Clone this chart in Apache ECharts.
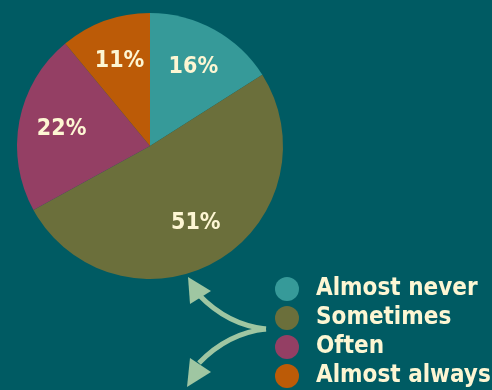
<!DOCTYPE html>
<html>
<head>
<meta charset="utf-8">
<script src="https://cdn.jsdelivr.net/npm/echarts@6/dist/echarts.min.js"></script>
<style>
  html, body { margin: 0; padding: 0; background: #005b63; }
  #chart { width: 492px; height: 390px; }
</style>
</head>
<body>
<div id="chart"></div>
<script>
// Survey answer categories and their shares (percent)
const categories = ['Almost never', 'Sometimes', 'Often', 'Almost always'];
const shares = [16, 51, 22, 11];
const sliceColors = ['#369a99', '#6b6f3b', '#943f64', '#bc5b07'];

const textColor = '#fdf6d3';
const arrowColor = '#9fc6a2';
const fontFamily = '"DejaVu Sans Condensed", "DejaVu Sans", sans-serif';

const pieData = categories.map((name, i) => ({
  name: name,
  value: shares[i],
  itemStyle: { color: sliceColors[i] }
}));

const chart = echarts.init(document.getElementById('chart'), null, { renderer: 'canvas' });

chart.setOption({
  backgroundColor: '#005b63',
  animation: false,
  legend: {
    orient: 'vertical',
    left: 275,
    top: 277,
    width: 217,
    height: 140,
    padding: 0,
    icon: 'circle',
    itemWidth: 24,
    itemHeight: 24,
    itemGap: 5,
    selectedMode: false,
    data: categories,
    textStyle: {
      color: textColor,
      fontFamily: fontFamily,
      fontWeight: 'bold',
      fontSize: 24,
      lineHeight: 22,
      padding: [2, 0, 0, 12]
    }
  },
  series: [
    {
      // the visible slices
      type: 'pie',
      center: [150, 146],
      radius: [0, 133],
      startAngle: 90,
      clockwise: true,
      silent: true,
      label: { show: false },
      labelLine: { show: false },
      itemStyle: { borderWidth: 0 },
      data: pieData
    },
    {
      // transparent twin used only to place the percentage labels further out
      type: 'pie',
      center: [150, 146],
      radius: [0, 174],
      startAngle: 90,
      clockwise: true,
      silent: true,
      itemStyle: { color: 'rgba(0,0,0,0)', borderWidth: 0 },
      label: {
        show: true,
        position: 'inside',
        formatter: '{c}%',
        color: textColor,
        fontFamily: fontFamily,
        fontWeight: 'bold',
        fontSize: 23,
        padding: [9, 0, 0, 0]
      },
      labelLine: { show: false },
      data: categories.map((name, i) => ({ name: name, value: shares[i] }))
    }
  ],
  graphic: [
    {
      type: 'bezierCurve',
      shape: { x1: 266, y1: 329, x2: 199, y2: 295, cpx1: 228, cpy1: 325 },
      style: { stroke: arrowColor, lineWidth: 5, fill: null },
      silent: true
    },
    {
      type: 'bezierCurve',
      shape: { x1: 266, y1: 329, x2: 199, y2: 363, cpx1: 228, cpy1: 333 },
      style: { stroke: arrowColor, lineWidth: 5, fill: null },
      silent: true
    },
    {
      type: 'polygon',
      shape: { points: [[188, 277], [211, 291], [190, 304]] },
      style: { fill: arrowColor },
      silent: true
    },
    {
      type: 'polygon',
      shape: { points: [[187, 387], [190, 358], [211, 372]] },
      style: { fill: arrowColor },
      silent: true
    }
  ]
});
</script>
</body>
</html>
